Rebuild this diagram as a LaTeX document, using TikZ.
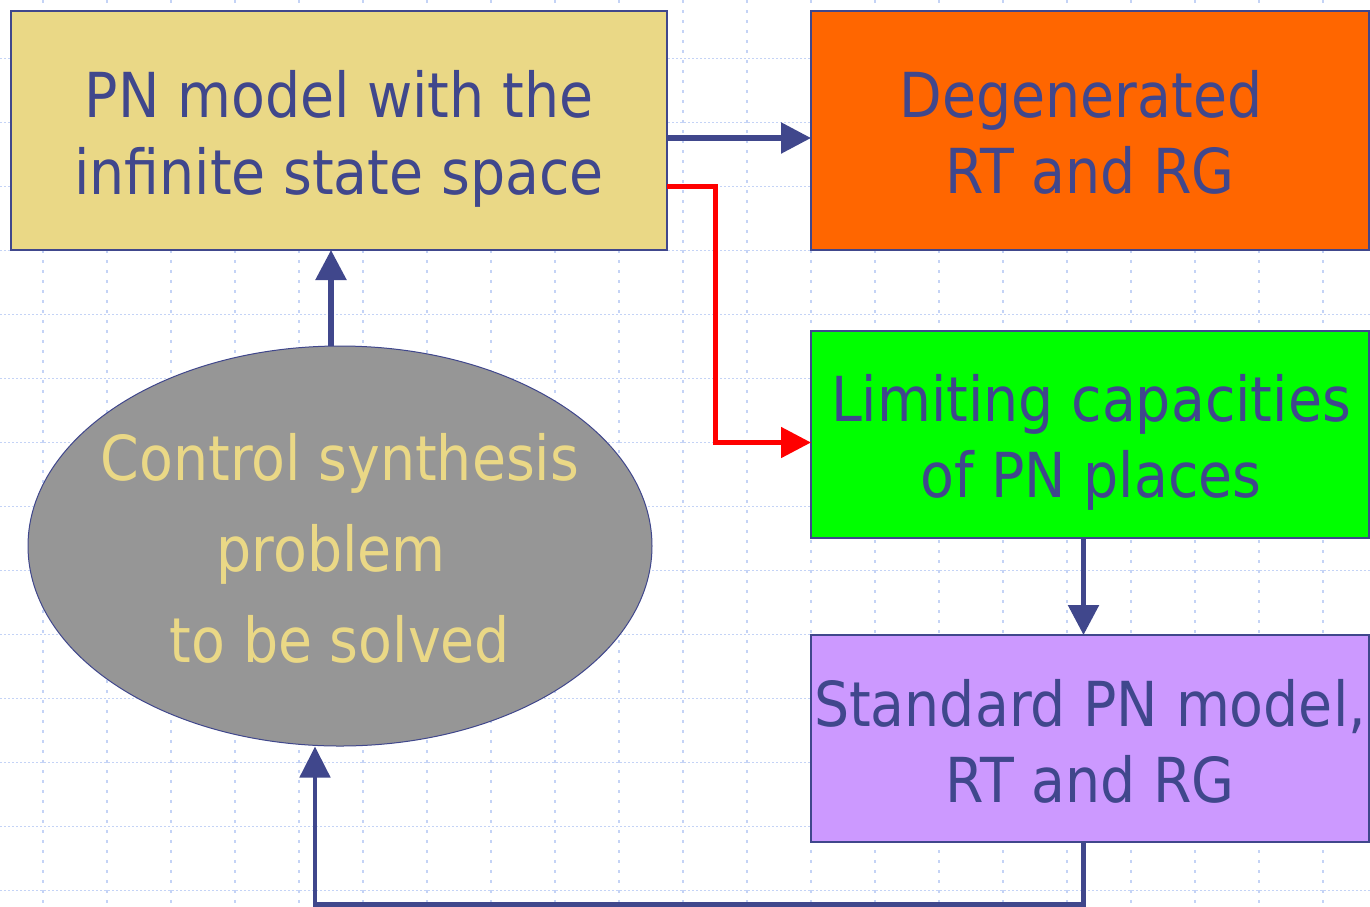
\documentclass[tikz,border=0pt]{standalone}
\usepackage{fontspec}
\setmainfont{DejaVu Sans}[FakeStretch=0.893]
\usetikzlibrary{arrows.meta,shapes.geometric}

\definecolor{ink}{RGB}{64,71,140}
\definecolor{cyellow}{RGB}{234,216,134}
\definecolor{corange}{RGB}{255,102,0}
\definecolor{cgreen}{RGB}{0,255,0}
\definecolor{cpurple}{RGB}{204,153,255}
\definecolor{cgray}{RGB}{150,150,150}
\definecolor{gridblue}{RGB}{196,211,246}

% fixed line height so every text block centres on its baselines
\newcommand\lnstrut{\rule[-16pt]{0pt}{64pt}}

\begin{document}
\begin{tikzpicture}[x=1pt,y=-1pt,
  hgrid/.style={draw=gridblue, line width=1.6pt, dash pattern=on 2pt off 2pt},
  vgrid/.style={draw=gridblue, line width=1.6pt, dash pattern=on 2.5pt off 7.5pt},
  box/.style={draw=ink, line width=1.5pt, inner sep=0pt, outer sep=0pt},
  lbl/.style={text=ink, align=center, inner sep=0pt,
    font=\fontsize{62}{76.5}\selectfont},
  ellbl/.style={text=cyellow, align=center, inner sep=0pt,
    font=\fontsize{62}{91}\selectfont},
  arr/.style={draw=ink, line width=5.5pt, -{Triangle[length=30pt,width=30pt]}},
  redarr/.style={draw=red, line width=5pt, -{Triangle[length=30pt,width=30pt]}},
  backarr/.style={draw=ink, line width=4.8pt, -{Triangle[length=31pt,width=30pt]}}
]
\useasboundingbox (0,0) rectangle (1370,906);
\fill[white] (0,0) rectangle (1370,906);

% background grid
\foreach \k in {0,...,13}
  \draw[hgrid] (0,{58.5+64*\k}) -- (1370,{58.5+64*\k});
\foreach \k in {0,...,20}
  \draw[vgrid] ({43+64*\k},0) -- ({43+64*\k},906);

% boxes
\node[box, fill=cyellow, minimum width=656pt, minimum height=239pt] (pn) at (339,130.5) {};
\node[box, fill=corange, minimum width=558pt, minimum height=239pt] (deg) at (1090,130.5) {};
\node[box, fill=cgreen, minimum width=558pt, minimum height=207pt] (lim) at (1090,434.5) {};
\node[box, fill=cpurple, minimum width=558pt, minimum height=207pt] (std) at (1090,738.5) {};
\node[ellipse, draw=ink, line width=1pt, fill=cgray, inner sep=0pt,
      minimum width=624pt, minimum height=400pt] (ell) at (340,546) {};

% texts
\node[lbl] (pn-t) at (339,140) {\lnstrut PN model with the\\\lnstrut infinite state space};
\node[lbl] (deg-t) at (1090,139.7) {\lnstrut Degenerated\phantom{\ }\\\lnstrut RT and RG};
\node[lbl] (lim-t) at (1091,443.7) {\lnstrut Limiting capacities\\\lnstrut of PN places};
\node[lbl] (std-t) at (1090,748.7) {\lnstrut Standard PN model,\\\lnstrut RT and RG};
\node[ellbl] (ell-t) at (340,555.9) {\lnstrut Control synthesis\\\lnstrut problem\phantom{\ }\\\lnstrut to be solved};

% connectors
\coordinate (fb) at (1083.5,904.5);
\coordinate (fbl) at (315,904.5);
\draw[arr] (pn.east |- 0,138) -- (deg.west |- 0,138);
\draw[redarr] (pn.east |- 0,186) -- (715,186) |- (lim.west |- 0,442.5);
\draw[arr] ([xshift=-9pt]ell.north) -- ([xshift=-9pt]ell.north |- pn.south);
\draw[arr] (lim.south -| fb) -- (std.north -| fb);
\draw[backarr] (std.south -| fb) -- (fb) -- (fbl) -- (fbl |- ell.south);
\end{tikzpicture}
\end{document}
